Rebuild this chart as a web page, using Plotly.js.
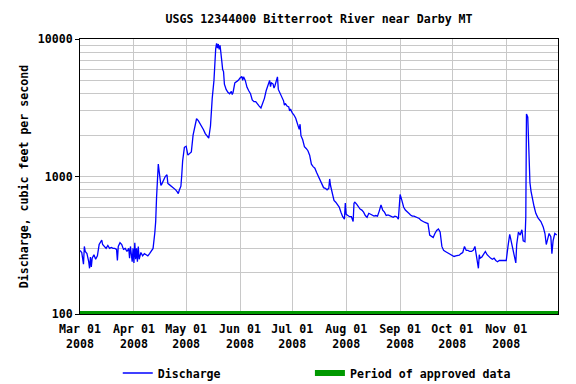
<!DOCTYPE html>
<html><head><meta charset="utf-8">
<script src="https://cdn.plot.ly/plotly-3.0.1.min.js"></script>
<style>html,body{margin:0;padding:0;background:#fff}</style>
</head><body><div id="chart" style="width:576px;height:384px"></div>
<script>
// Daily (and some half-day) discharge readings, cubic feet per second
const mar = [["03-01",290],["03-02",280],["03-03",230],["03-03 12:00",310],["03-04",285],["03-05",275],["03-06",240],["03-06 12:00",215],["03-07",260],["03-07 12:00",220],["03-08",255],["03-09",270],["03-10",250],["03-11",265],["03-12",320],["03-13",335],["03-13 12:00",345],["03-14",320],["03-15",310],["03-16",300],["03-17",315],["03-18",300],["03-19",305],["03-20",300],["03-21",300],["03-22",295],["03-22 12:00",245],["03-23",310],["03-24",330],["03-25",320],["03-26",295],["03-27",300],["03-28",285],["03-29",300],["03-29 12:00",255],["03-30",310],["03-31",240],["03-31 12:00",300]];
const apr = [["04-01",235],["04-01 12:00",330],["04-02",250],["04-02 12:00",300],["04-03",240],["04-03 12:00",310],["04-04",250],["04-05",280],["04-06",265],["04-07",275],["04-08",270],["04-09",265],["04-10",275],["04-11",290],["04-12",300],["04-13",390],["04-13 12:00",470],["04-14",700],["04-14 12:00",1090],["04-15",1230],["04-15 12:00",1090],["04-16",1000],["04-16 12:00",860],["04-17",880],["04-18",940],["04-19",1000],["04-20",1030],["04-20 12:00",890],["04-21",880],["04-22",860],["04-23",850],["04-24",820],["04-25",800],["04-26",770],["04-26 12:00",750],["04-27",790],["04-28",850],["04-28 12:00",1030],["04-29",1300],["04-30",1630]];
const may = [["05-01",1660],["05-02",1430],["05-03",1470],["05-04",1510],["05-05",2000],["05-06",2300],["05-07",2630],["05-08",2550],["05-09",2440],["05-10",2300],["05-11",2190],["05-12",2050],["05-13",1960],["05-14",1900],["05-15",2330],["05-15 12:00",3000],["05-16",3700],["05-17",5000],["05-17 12:00",7000],["05-18",8500],["05-18 12:00",9300],["05-19",8600],["05-19 12:00",9200],["05-20",8400],["05-20 12:00",9000],["05-21",8200],["05-21 12:00",6900],["05-22",6000],["05-22 12:00",5800],["05-23",4700],["05-24",4300],["05-25",4100],["05-26",4000],["05-27",4150],["05-27 12:00",3950],["05-28",4100],["05-29",4800],["05-30",4900],["05-31",5000]];
const jun = [["06-01",5200],["06-02",5350],["06-02 12:00",5000],["06-03",5300],["06-04",5000],["06-05",4450],["06-06",4200],["06-07",4000],["06-08",3600],["06-09",3500],["06-10",3500],["06-11",3350],["06-12",3250],["06-13",3150],["06-14",3400],["06-15",3700],["06-16",4200],["06-17",4600],["06-18",5000],["06-18 12:00",4500],["06-19",4800],["06-20",4700],["06-20 12:00",4400],["06-21",4550],["06-22",5000],["06-22 12:00",5300],["06-23",4300],["06-24",4000],["06-25",3800],["06-26",3550],["06-26 12:00",3300],["06-27",3400],["06-28",3250],["06-29",3200],["06-29 12:00",3000],["06-30",3100]];
const jul = [["07-01",2900],["07-02",2800],["07-03",2650],["07-04",2450],["07-05",2200],["07-05 12:00",2400],["07-06",1980],["07-07",1850],["07-08",1650],["07-09",1600],["07-10",1540],["07-11",1430],["07-12",1230],["07-13",1180],["07-14",1150],["07-15",1070],["07-16",1000],["07-17",950],["07-18",890],["07-19",830],["07-20",820],["07-21",800],["07-22",820],["07-22 12:00",960],["07-23",860],["07-24",740],["07-25",670],["07-26",650],["07-27",630],["07-28",600],["07-29",550],["07-30",510],["07-31",490],["07-31 12:00",640]];
const aug = [["08-01",530],["08-02",520],["08-03",510],["08-04",510],["08-05",470],["08-05 12:00",640],["08-06",650],["08-07",630],["08-08",600],["08-09",580],["08-10",570],["08-11",550],["08-12",520],["08-13",505],["08-14",540],["08-15",530],["08-16",525],["08-17",515],["08-18",520],["08-19",515],["08-20",560],["08-21",620],["08-22",570],["08-23",550],["08-24",520],["08-25",525],["08-26",520],["08-27",510],["08-28",505],["08-29",515],["08-30",510],["08-31",490]];
const sep = [["09-01",740],["09-02",670],["09-03",600],["09-04",570],["09-05",550],["09-06",540],["09-07",525],["09-08",515],["09-09",515],["09-10",510],["09-11",505],["09-12",495],["09-13",480],["09-14",470],["09-15",465],["09-16",460],["09-17",455],["09-18",375],["09-19",365],["09-20",360],["09-21",385],["09-22",405],["09-23",415],["09-24",395],["09-25",310],["09-26",290],["09-27",285],["09-28",280],["09-29",275],["09-30",270]];
const oct = [["10-01",265],["10-02",262],["10-03",265],["10-04",265],["10-05",268],["10-06",275],["10-07",280],["10-08",310],["10-09",290],["10-10",290],["10-11",285],["10-12",285],["10-13",290],["10-14",310],["10-15",265],["10-16",215],["10-16 12:00",270],["10-17",255],["10-18",260],["10-19",270],["10-20",285],["10-21",270],["10-22",260],["10-23",255],["10-24",250],["10-25",255],["10-26",245],["10-27",240],["10-28",245],["10-29",245],["10-30",245],["10-31",245]];
const nov = [["11-01",245],["11-02",310],["11-03",380],["11-03 12:00",355],["11-04 12:00",310],["11-05 12:00",275],["11-06 12:00",235],["11-07",320],["11-08",395],["11-09",375],["11-10",410],["11-10 18:00",340],["11-11 18:00",335],["11-12 06:00",510],["11-12 15:00",2850],["11-13 09:00",2700],["11-14",1300],["11-14 15:00",900],["11-15 06:00",780],["11-16",680],["11-17",605],["11-18",540],["11-19 06:00",500],["11-20 22:00",470],["11-22 06:00",430],["11-23 06:00",385],["11-24",320],["11-24 22:00",355],["11-25 15:00",385],["11-26 15:00",365],["11-27 06:00",275],["11-27 22:00",340],["11-28 22:00",385],["11-30",375]];

const year = "2008";
const monthTicks = ["2008-03-01","2008-04-01","2008-05-01","2008-06-01","2008-07-01","2008-08-01","2008-09-01","2008-10-01","2008-11-01"];
const monthLabels = ["Mar 01","Apr 01","May 01","Jun 01","Jul 01","Aug 01","Sep 01","Oct 01","Nov 01"];
const yMajor = [100, 1000, 10000];
const yMajorText = ["100", "1000", "10000"];
const yMinor = [200,300,400,500,600,700,800,900,2000,3000,4000,5000,6000,7000,8000,9000];
const approvedPeriod = ["2008-03-01", "2008-12-01"];
const approvedLevel = [100, 100];

const all = [].concat(mar, apr, may, jun, jul, aug, sep, oct, nov);
const dates = all.map(r => year + "-" + r[0]);
const discharge = all.map(r => r[1]);

const F = {family: "DejaVu Sans Mono", size: 11.6, color: "#000", weight: "bold"};
const grid = "#c8c8c8";

const traces = [
  {x: dates, y: discharge, type: "scatter", mode: "lines", name: "Discharge",
   line: {color: "#0000ff", width: 1.3}, legend: "legend", hoverinfo: "skip"},
  {x: approvedPeriod, y: approvedLevel, type: "scatter", mode: "lines", name: "Period of approved data",
   line: {color: "#009900", width: 6}, legend: "legend2", hoverinfo: "skip"}
];

const legY = (314 - 373) / 275;
const layout = {
  width: 576, height: 384,
  margin: {l: 80, r: 18, t: 39, b: 70, pad: 0, autoexpand: false},
  paper_bgcolor: "#fff", plot_bgcolor: "#fff",
  font: F,
  title: {text: "USGS 12344000 Bitterroot River near Darby MT", font: F, x: 0.5, xref: "paper", xanchor: "center", y: 1 - 19/384, yanchor: "middle"},
  xaxis: {
    type: "date", range: ["2008-03-01", "2008-11-30 18:00"],
    tickmode: "array", tickvals: monthTicks,
    ticktext: monthLabels.map(l => l + "<br>" + year),
    showgrid: true, gridcolor: grid, gridwidth: 1,
    ticks: "", ticklabelstandoff: 4,
    showline: true, linecolor: "#000", linewidth: 1, mirror: true, zeroline: false,
    tickfont: F, fixedrange: true, automargin: false
  },
  yaxis: {
    type: "log", range: [2, 4],
    tickmode: "array", tickvals: yMajor, ticktext: yMajorText,
    ticks: "outside", ticklen: 4, tickcolor: "#000",
    showgrid: true, gridcolor: grid, gridwidth: 1,
    minor: {tickmode: "array", tickvals: yMinor, showgrid: true, gridcolor: grid, gridwidth: 1, ticks: ""},
    showline: true, linecolor: "#000", linewidth: 1, mirror: true, zeroline: false,
    tickfont: F,
    title: {text: "Discharge, cubic feet per second", font: F, standoff: 6},
    fixedrange: true, automargin: false
  },
  legend: {orientation: "h", x: 0.079, xanchor: "left", y: legY, yanchor: "middle", font: F, bgcolor: "rgba(0,0,0,0)"},
  legend2: {orientation: "h", x: 0.481, xanchor: "left", y: legY, yanchor: "middle", font: F, bgcolor: "rgba(0,0,0,0)"},
  showlegend: true
};

Plotly.newPlot("chart", traces, layout, {staticPlot: true, displayModeBar: false});
</script></body></html>
